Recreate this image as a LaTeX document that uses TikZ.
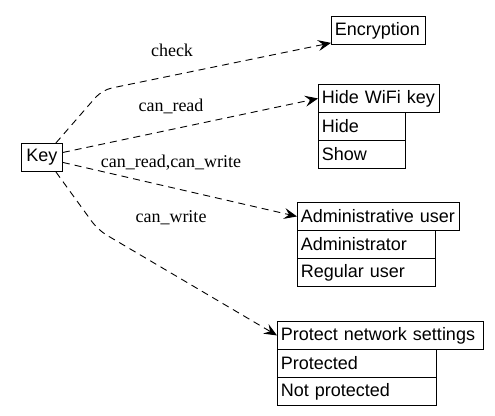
\documentclass[tikz,border=0pt]{standalone}
\usepackage{fontspec}
\setmainfont{Liberation Serif}
\newfontfamily\boxfont{Liberation Sans}
\usetikzlibrary{arrows.meta}
\begin{document}
\begin{tikzpicture}[x=1pt,y=-1pt,
  box/.style={draw, line width=0.9pt, inner xsep=3.5pt, inner ysep=0pt, minimum height=28pt, anchor=north west, align=left, font=\boxfont\fontsize{18}{20}\selectfont},
  lbl/.style={font=\fontsize{18}{20}\selectfont, anchor=base, inner sep=0pt},
  link/.style={draw, line width=0.9pt, dash pattern=on 7pt off 5pt, -{Stealth[length=13pt,width=11pt,inset=5pt]}}]
\useasboundingbox (0,0) rectangle (495,415);
% nodes
\node[box, minimum width=41pt, align=center] (key) at (21,143) {Key};
\node[box, text width=87pt] (enc) at (331,16) {Encryption};
\node[box, text width=114pt] (hidet) at (318,84) {Hide WiFi key};
\node[box, text width=80pt] (hide1) at (318,112) {Hide};
\node[box, text width=80pt] (hide2) at (318,140) {Show};
\node[box, text width=155pt] (admt) at (297,202) {Administrative user};
\node[box, text width=131pt] (adm1) at (297,230) {Administrator};
\node[box, text width=131pt] (adm2) at (297,258) {Regular user};
\node[box, text width=199pt] (prot) at (277,321) {Protect network settings};
\node[box, text width=152pt] (prot1) at (277,349) {Protected};
\node[box, text width=152pt] (prot2) at (277,377) {Not protected};
% bends
\coordinate (b1) at (102,90);
\coordinate (b2) at (98,230);
% links
\draw[link, rounded corners=10pt] ([xshift=-7pt]key.north east) -- (b1) -- ([yshift=2pt]enc.south west);
\draw[link] ([yshift=5pt]key.east) -- (hidet.west);
\draw[link] ([yshift=-5pt]key.east) -- (admt.west);
\draw[link, rounded corners=10pt] ([xshift=-7pt]key.south east) -- (b2) -- (prot.west);
% labels
\node[lbl] (l1) at (172,56) {check};
\node[lbl] (l2) at (171,111) {can\_read};
\node[lbl] (l3) at (171,167) {can\_read,can\_write};
\node[lbl] (l4) at (171,222) {can\_write};
\end{tikzpicture}
\end{document}
